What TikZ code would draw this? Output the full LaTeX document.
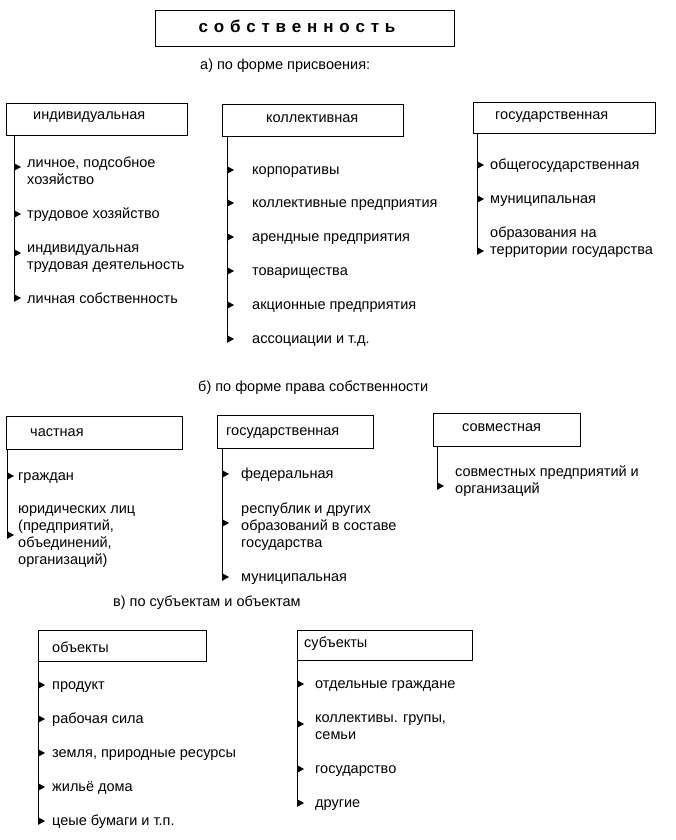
\documentclass[tikz,border=0pt]{standalone}
\usepackage{fontspec}
\setmainfont{Liberation Sans}
\usetikzlibrary{arrows.meta}
\begin{document}
\begin{tikzpicture}[x=1pt,y=-1pt,
  box/.style={draw,line width=1pt,anchor=north west,inner sep=0pt},
  txt/.style={anchor=base west,inner sep=0pt,align=left,font=\fontsize{14.5}{17}\selectfont},
  head/.style={anchor=base west,inner sep=0pt,font=\fontsize{14.5}{17}\selectfont},
  stem/.style={line width=1pt},
  arr/.style={line width=1pt,-{Triangle[length=7pt,width=7.5pt]}}]
\useasboundingbox (0,0) rectangle (675,840);
% title
\node[draw,line width=1pt,minimum width=299pt,minimum height=36pt,anchor=north west,inner sep=0pt] (title) at (155,10) {};
\node[anchor=base,inner sep=0pt,font=\fontsize{17}{18}\selectfont\bfseries] (titletxt) at (297,33)
 {с\hspace{5.8pt}о\hspace{5.8pt}б\hspace{5.8pt}с\hspace{5.8pt}т\hspace{5.8pt}в\hspace{5.8pt}е\hspace{5.8pt}н\hspace{5.8pt}н\hspace{5.8pt}о\hspace{5.8pt}с\hspace{5.8pt}т\hspace{5.8pt}ь};
\node[head] (ha) at (200,70) {а) по форме присвоения:};
\node[head] (hb) at (198,391) {б) по форме права собственности};
\node[head] (hc) at (113,606) {в) по субъектам и объектам};

% ---- A: individual
\node[box,minimum width=181pt,minimum height=32pt] (ind) at (6,103) {};
\node[head] (indl) at (33,120) {индивидуальная};
\coordinate (indtop) at (14,135);
\coordinate (indbot) at (14,298);
\draw[stem] (indtop) -- (indbot);
\node[txt] (i1) at (27,184) {личное, подсобное\\хозяйство};
\node[txt] (i2) at (27,218) {трудовое хозяйство};
\node[txt] (i3) at (27,269) {индивидуальная\\трудовая деятельность};
\node[txt] (i4) at (27,303) {личная собственность};
\coordinate (ia1) at (14,167); \coordinate (ib1) at (21,167);
\coordinate (ia2) at (14,214); \coordinate (ib2) at (21,214);
\coordinate (ia3) at (14,253); \coordinate (ib3) at (21,253);
\coordinate (ib4) at (21,298);
\draw[arr] (ia1) -- (ib1);
\draw[arr] (ia2) -- (ib2);
\draw[arr] (ia3) -- (ib3);
\draw[arr] (indbot) -- (ib4);

% ---- A: collective
\node[box,minimum width=181pt,minimum height=32pt] (col) at (222,104) {};
\node[head] (coll) at (266,123) {коллективная};
\coordinate (coltop) at (227,136);
\coordinate (colbot) at (227,339);
\draw[stem] (coltop) -- (colbot);
\foreach \y/\t [count=\k] in {170/корпоративы,203/коллективные предприятия,237/арендные предприятия,271/товарищества,305/акционные предприятия,339/ассоциации и т.д.}{
  \node[txt] (c\k) at (252,\y+4) {\t};
  \coordinate (ca\k) at (227,\y);
  \coordinate (cb\k) at (234,\y);
  \draw[arr] (ca\k) -- (cb\k);
}

% ---- A: state
\node[box,minimum width=182pt,minimum height=31pt] (st) at (473,102) {};
\node[head] (stl) at (495,120) {государственная};
\coordinate (sttop) at (477,133);
\coordinate (stbot) at (477,251);
\draw[stem] (sttop) -- (stbot);
\node[txt] (s1) at (490,169) {общегосударственная};
\node[txt] (s2) at (490,203) {муниципальная};
\node[txt] (s3) at (490,254) {образования на\\территории государства};
\coordinate (sa1) at (477,165); \coordinate (sb1) at (484,165);
\coordinate (sa2) at (477,199); \coordinate (sb2) at (484,199);
\coordinate (sb3) at (484,251);
\draw[arr] (sa1) -- (sb1);
\draw[arr] (sa2) -- (sb2);
\draw[arr] (stbot) -- (sb3);

% ---- B: private
\node[box,minimum width=176pt,minimum height=33pt] (pr) at (6,416) {};
\node[head] (prl) at (30,436) {частная};
\coordinate (prtop) at (7,449);
\coordinate (prbot) at (7,535);
\draw[stem] (prtop) -- (prbot);
\node[txt] (p1) at (18,480) {граждан};
\node[txt] (p2) at (18,564) {юридических лиц\\(предприятий,\\объединений,\\организаций)};
\coordinate (pa1) at (7,476); \coordinate (pb1) at (14,476);
\coordinate (pb2) at (14,535);
\draw[arr] (pa1) -- (pb1);
\draw[arr] (prbot) -- (pb2);

% ---- B: state
\node[box,minimum width=156pt,minimum height=33pt] (gs) at (217,415) {};
\node[head] (gsl) at (226,435) {государственная};
\coordinate (gstop) at (222,448);
\coordinate (gsbot) at (222,577);
\draw[stem] (gstop) -- (gsbot);
\node[txt] (g1) at (241,478) {федеральная};
\node[txt] (g2) at (241,547) {республик и других\\образований в составе\\государства};
\node[txt] (g3) at (241,581) {муниципальная};
\coordinate (ga1) at (222,474); \coordinate (gb1) at (229,474);
\coordinate (ga2) at (222,523); \coordinate (gb2) at (229,523);
\coordinate (gb3) at (229,577);
\draw[arr] (ga1) -- (gb1);
\draw[arr] (ga2) -- (gb2);
\draw[arr] (gsbot) -- (gb3);

% ---- B: joint
\node[box,minimum width=147pt,minimum height=33pt] (jt) at (433,413) {};
\node[head] (jtl) at (462,431) {совместная};
\coordinate (jttop) at (437,446);
\coordinate (jtbot) at (437,486);
\draw[stem] (jttop) -- (jtbot);
\node[txt] (j1) at (455,493) {совместных предприятий и\\организаций};
\coordinate (jb1) at (444,486);
\draw[arr] (jtbot) -- (jb1);

% ---- C: objects
\node[box,minimum width=168pt,minimum height=31pt] (ob) at (38,630) {};
\node[head] (obl) at (52,652) {объекты};
\coordinate (obtop) at (38,661);
\coordinate (obbot) at (38,821);
\draw[stem] (obtop) -- (obbot);
\foreach \y/\t [count=\k] in {685/продукт,719/рабочая сила,753/{земля, природные ресурсы},787/жильё дома,821/цеые бумаги и т.п.}{
  \node[txt] (o\k) at (52,\y+4) {\t};
  \coordinate (oa\k) at (38,\y);
  \coordinate (ob\k) at (45,\y);
  \draw[arr] (oa\k) -- (ob\k);
}

% ---- C: subjects
\node[box,minimum width=175pt,minimum height=30pt] (sb) at (297,630) {};
\node[head] (sbl) at (304,647) {субъекты};
\coordinate (sbtop) at (297,660);
\coordinate (sbbot) at (297,803);
\draw[stem] (sbtop) -- (sbbot);
\node[txt] (u1) at (315,688) {отдельные граждане};
\node[txt] (u2) at (315,739) {коллективы. групы,\\семьи};
\node[txt] (u3) at (315,773) {государство};
\node[txt] (u4) at (315,807) {другие};
\coordinate (ua1) at (297,684); \coordinate (ub1) at (304,684);
\coordinate (ua2) at (297,724); \coordinate (ub2) at (304,724);
\coordinate (ua3) at (297,769); \coordinate (ub3) at (304,769);
\coordinate (ub4) at (304,803);
\draw[arr] (ua1) -- (ub1);
\draw[arr] (ua2) -- (ub2);
\draw[arr] (ua3) -- (ub3);
\draw[arr] (sbbot) -- (ub4);
\end{tikzpicture}
\end{document}
